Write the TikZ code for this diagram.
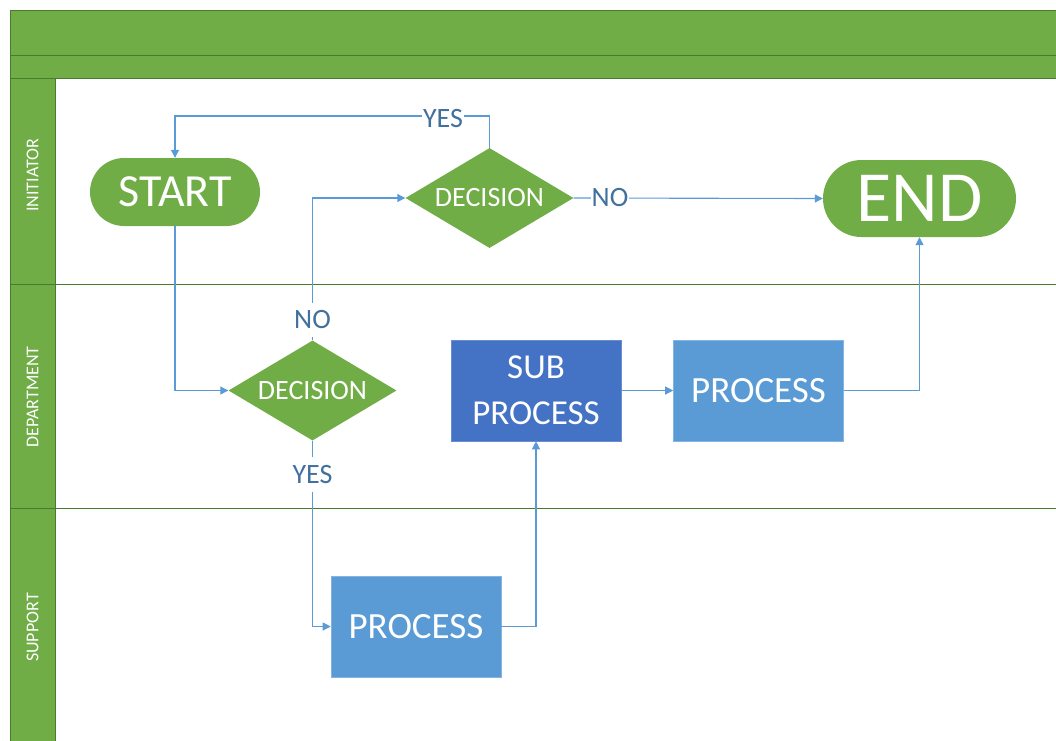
\documentclass[tikz,border=0pt]{standalone}
\usepackage{fontspec}
\setmainfont{Carlito}
\usetikzlibrary{shapes.geometric,arrows.meta}
\definecolor{lanegreen}{HTML}{70AD47}
\definecolor{laneedge}{HTML}{4A7A2C}
\definecolor{procblue}{HTML}{5B9BD5}
\definecolor{subblue}{HTML}{4472C4}
\definecolor{linkblue}{HTML}{5B9BD5}
\definecolor{labelblue}{HTML}{41719C}

\begin{document}
\begin{tikzpicture}[x=1pt,y=-1pt,
  band/.style={fill=lanegreen,draw=laneedge,line width=1pt},
  lanetitle/.style={text=white,rotate=90,inner sep=0pt,font=\fontsize{18}{20}\selectfont},
  terminal/.style={rectangle,fill=lanegreen,text=white,inner sep=0pt},
  decision/.style={diamond,fill=lanegreen,text=white,minimum width=168pt,minimum height=100pt,
    inner sep=0pt,aspect=1.68,font=\fontsize{28}{30}\selectfont},
  procbox/.style={rectangle,fill=procblue,draw=procblue!75!white,line width=0.6pt,text=white,
    minimum width=170pt,minimum height=101pt,inner sep=0pt,font=\fontsize{37}{44}\selectfont},
  subbox/.style={procbox,fill=subblue,draw=subblue!80!white,align=center,font=\fontsize{35}{46}\selectfont},
  link/.style={draw=linkblue,line width=1.1pt,-{Triangle[length=8pt,width=8pt]}},
  flowlabel/.style={fill=white,text=labelblue,inner xsep=1pt,inner ysep=8pt,font=\fontsize{28}{30}\selectfont}
]
\useasboundingbox (0,0) rectangle (1056,740);

% swimlane frame
\draw[band] (10,10) rectangle (1060,55);
\draw[band] (10,55) rectangle (1060,78);
\draw[band] (10,78) rectangle (55,745);
\draw[laneedge,line width=1pt] (10,284) -- (1060,284);
\draw[laneedge,line width=1pt] (10,508) -- (1060,508);

\node[lanetitle] (laneA) at (32.5,175.5) {INITIATOR};
\node[lanetitle] (laneB) at (32.5,397) {DEPARTMENT};
\node[lanetitle] (laneC) at (32.5,627.5) {SUPPORT};

% shapes
\node[terminal,minimum width=170pt,minimum height=68pt,rounded corners=34pt,
  font=\fontsize{46}{50}\selectfont] (start) at (175,192) {START};
\node[terminal,minimum width=193pt,minimum height=77pt,rounded corners=38.5pt,
  font=\fontsize{72}{76}\selectfont] (end) at (919.5,198.5) {END};
\node[decision] (d1) at (489.5,198) {DECISION};
\node[decision] (d2) at (312.5,390.5) {DECISION};
\node[subbox] (sub) at (536,390.5) {SUB\\PROCESS};
\node[procbox] (proc2) at (758.5,390.5) {PROCESS};
\node[procbox] (proc1) at (416,626.5) {PROCESS};

% connectors
\draw[link] (start.south) |- (d2.west);
\draw[link] (d2.north) |- (d1.west);
\draw[link] (d1.north) -- (d1.north |- 0,116) -| (start.north);
\draw[link] (d1.east) -- (end.west);
\draw[link] (d2.south) |- (proc1.west);
\draw[link] (proc1.east) -| (sub.south);
\draw[link] (sub.east) -- (proc2.west);
\draw[link] (proc2.east) -| (end.south);

% branch labels
\node[flowlabel] (yesA) at (443,119) {YES};
\node[flowlabel] (noA) at (610,197.5) {NO};
\node[flowlabel] (noB) at (312.5,320) {NO};
\node[flowlabel] (yesB) at (312.5,474.5) {YES};
\end{tikzpicture}
\end{document}
